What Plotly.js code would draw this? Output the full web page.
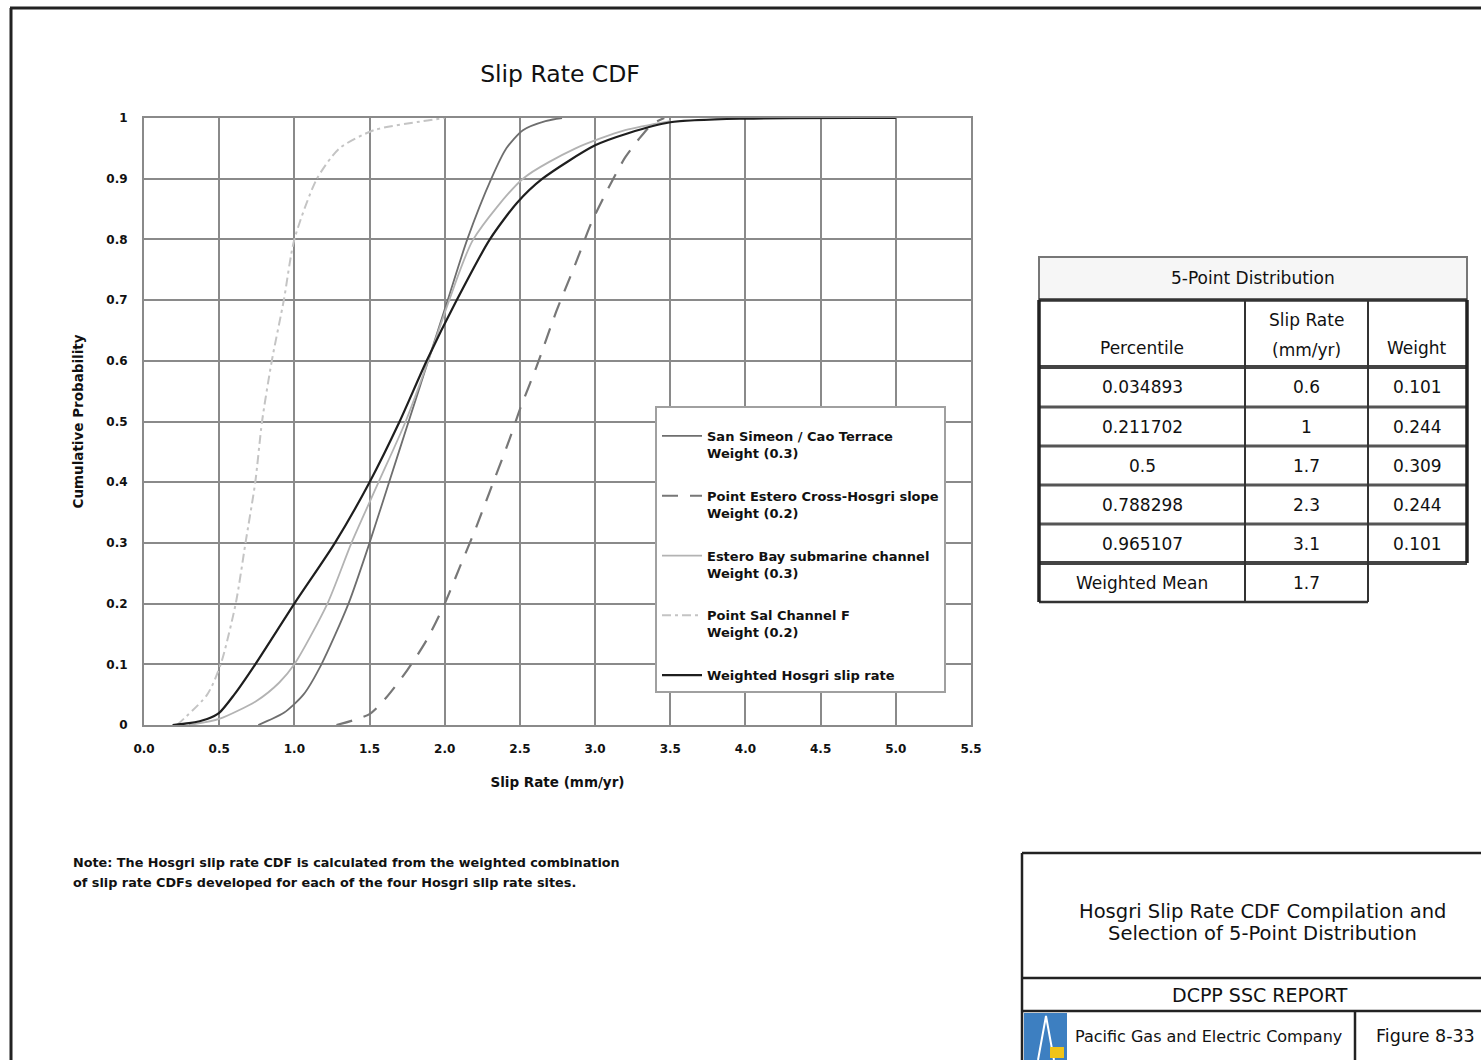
<!DOCTYPE html>
<html>
<head>
<meta charset="utf-8">
<script src="https://cdn.plot.ly/plotly-3.0.1.min.js"></script>
<style>html,body{margin:0;padding:0;background:#fff;}#chart{width:1481px;height:1060px;}</style>
</head>
<body>
<div id="chart"></div>
<script>
// ---- Data ----
const seriesNames = [
  "San Simeon / Cao Terrace<br>Weight (0.3)",
  "Point Estero Cross-Hosgri slope<br>Weight (0.2)",
  "Estero Bay submarine channel<br>Weight (0.3)",
  "Point Sal Channel F<br>Weight (0.2)",
  "Weighted Hosgri slip rate"
];
const ssX = [0.76, 0.93, 1.06, 1.18, 1.36, 1.50, 1.63, 1.76, 1.89, 2.02, 2.15, 2.31, 2.41, 2.52, 2.67, 2.78];
const ssY = [0, 0.02, 0.05, 0.10, 0.20, 0.30, 0.40, 0.50, 0.60, 0.70, 0.80, 0.90, 0.95, 0.98, 0.995, 1.0];
const peX = [1.28, 1.50, 1.61, 1.75, 1.88, 2.00, 2.10, 2.20, 2.30, 2.43, 2.50, 2.61, 2.74, 2.87, 2.98, 3.10, 3.20, 3.29, 3.38, 3.46];
const peY = [0, 0.018, 0.045, 0.09, 0.14, 0.20, 0.26, 0.32, 0.385, 0.47, 0.52, 0.59, 0.68, 0.76, 0.83, 0.89, 0.935, 0.965, 0.99, 1.0];
const ebX = [0.30, 0.50, 0.75, 0.90, 1.00, 1.22, 1.38, 1.56, 1.74, 1.89, 2.03, 2.19, 2.52, 2.87, 3.20, 3.50];
const ebY = [0, 0.01, 0.04, 0.07, 0.10, 0.20, 0.30, 0.40, 0.50, 0.60, 0.70, 0.80, 0.90, 0.95, 0.98, 0.995];
const psX = [0.22, 0.42, 0.51, 0.61, 0.675, 0.74, 0.785, 0.85, 0.93, 1.00, 1.15, 1.30, 1.53, 1.86, 2.00];
const psY = [0, 0.05, 0.10, 0.20, 0.30, 0.40, 0.50, 0.60, 0.70, 0.80, 0.90, 0.95, 0.98, 0.995, 1.0];
const wtX = [0.19, 0.30, 0.42, 0.50, 0.60, 0.74, 1.00, 1.27, 1.50, 1.70, 1.88, 2.08, 2.30, 2.48, 2.65, 3.00, 3.22, 3.50, 4.00, 5.00];
const wtY = [0, 0.003, 0.01, 0.02, 0.05, 0.10, 0.20, 0.30, 0.40, 0.50, 0.60, 0.70, 0.80, 0.86, 0.90, 0.955, 0.975, 0.993, 0.999, 1.0];

const yTickVals = [0, 0.1, 0.2, 0.3, 0.4, 0.5, 0.6, 0.7, 0.8, 0.9, 1];
const yTickText = ["0", "0.1", "0.2", "0.3", "0.4", "0.5", "0.6", "0.7", "0.8", "0.9", "1"];

const tablePercentiles = ["0.034893", "0.211702", "0.5", "0.788298", "0.965107"];
const tableSlipRates = ["0.6", "1", "1.7", "2.3", "3.1"];
const tableWeights = ["0.101", "0.244", "0.309", "0.244", "0.101"];
const weightedMean = "1.7";

// ---- Geometry helpers (pixel -> paper) ----
const L = 144, R = 971, T = 118, B = 725;
const xp = px => (px - L) / (R - L);
const yp = py => (B - py) / (B - T);
const FONT = "DejaVu Sans, Liberation Sans, Arial, sans-serif";

const styles = [
  {color: "#6e6e6e", width: 1.8, dash: "solid"},
  {color: "#777777", width: 2.2, dash: "16px,12px"},
  {color: "#b3b3b3", width: 1.8, dash: "solid"},
  {color: "#c4c4c4", width: 2.0, dash: "9px,4px,3px,4px"},
  {color: "#1e1e1e", width: 2.2, dash: "solid"}
];
const xs = [ssX, peX, ebX, psX, wtX];
const ys = [ssY, peY, ebY, psY, wtY];

const traces = xs.map((x, i) => ({
  type: "scatter", mode: "lines", x: x, y: ys[i], name: seriesNames[i],
  legendgroup: "g" + i,
  line: {color: styles[i].color, width: styles[i].width, dash: styles[i].dash, shape: "spline", smoothing: 0.7},
  hoverinfo: "skip"
}));

const shapes = [];
const annotations = [];
function hline(y, x0, x1, color, w) {
  shapes.push({type: "line", xref: "paper", yref: "paper", x0: xp(x0), x1: xp(x1), y0: yp(y), y1: yp(y), line: {color: color, width: w}});
}
function vline(x, y0, y1, color, w) {
  shapes.push({type: "line", xref: "paper", yref: "paper", x0: xp(x), x1: xp(x), y0: yp(y0), y1: yp(y1), line: {color: color, width: w}});
}
function text(t, x, y, size, opts) {
  opts = opts || {};
  annotations.push(Object.assign({
    xref: "paper", yref: "paper", x: xp(x), y: yp(y), text: t, showarrow: false,
    xanchor: "center", yanchor: "middle",
    font: {family: FONT, size: size, color: "#111", weight: opts.weight || "normal"}
  }, opts.extra || {}));
}

// Outer page frame
hline(8, 10, 1481, "#222", 3);
vline(11, 8, 1060, "#222", 3);

// ---- Table ----
const tx = [1039, 1245, 1368, 1467];
const ty = [257, 300, 367, 407, 446, 485, 524, 563, 602];
shapes.push({type: "rect", xref: "paper", yref: "paper", x0: xp(tx[0]), x1: xp(tx[3]), y0: yp(ty[0]), y1: yp(ty[1]),
  line: {color: "#777", width: 2}, fillcolor: "#f6f6f6"});
hline(ty[1], tx[0], tx[3], "#333", 3.5);
hline(ty[2], tx[0], tx[3], "#444", 4);
for (let k = 3; k <= 6; k++) hline(ty[k], tx[0], tx[3], "#555", 3);
hline(ty[7], tx[0], tx[3], "#444", 4);
hline(ty[8], tx[0], tx[2], "#333", 2.5);
vline(tx[0], ty[1], ty[8], "#222", 3.5);
vline(tx[1], ty[1], ty[8], "#333", 2);
vline(tx[2], ty[1], ty[8], "#333", 2);
vline(tx[3], ty[1], ty[7], "#222", 3.5);

const colC = [1142, 1306, 1417];
text("5-Point Distribution", 1253, 278, 17);
text("Percentile", colC[0], 348, 17);
text("Slip Rate", colC[1], 320, 17);
text("(mm/yr)", colC[1], 350, 17);
text("Weight", colC[2], 348, 17);
tablePercentiles.forEach((p, i) => {
  const cy = (ty[i + 2] + ty[i + 3]) / 2;
  text(p, colC[0], cy, 17);
  text(tableSlipRates[i], colC[1], cy, 17);
  text(tableWeights[i], colC[2], cy, 17);
});
text("Weighted Mean", colC[0], (ty[7] + ty[8]) / 2, 17);
text(weightedMean, colC[1], (ty[7] + ty[8]) / 2, 17);

// ---- Note ----
text("Note: The Hosgri slip rate CDF is calculated from the weighted combination", 71, 862, 12.8, {weight: "bold", extra: {xanchor: "left"}});
text("of slip rate CDFs developed for each of the four Hosgri slip rate sites.", 71, 882, 12.8, {weight: "bold", extra: {xanchor: "left"}});

// ---- Title block ----
hline(853, 1022, 1481, "#222", 2.5);
vline(1022, 853, 1060, "#222", 2.5);
hline(978, 1022, 1481, "#222", 2.5);
hline(1011, 1022, 1481, "#222", 2.5);
vline(1355, 1011, 1060, "#222", 2.5);
text("Hosgri Slip Rate CDF Compilation and", 1262, 911, 19.5);
text("Selection of 5-Point Distribution", 1262, 933, 19.5);
text("DCPP SSC REPORT", 1260, 995, 19);
text("Pacific Gas and Electric Company", 1208, 1036, 16);
text("Figure 8-33", 1374, 1036, 17.5, {extra: {xanchor: "left"}});
// logo
shapes.push({type: "rect", xref: "paper", yref: "paper", x0: xp(1024), x1: xp(1067), y0: yp(1013), y1: yp(1060), line: {width: 0}, fillcolor: "#3d7fc1"});
shapes.push({type: "path", xref: "paper", yref: "paper",
  path: "M" + xp(1038) + "," + yp(1060) + " L" + xp(1046) + "," + yp(1016) + " L" + xp(1054) + "," + yp(1060),
  line: {color: "#ffffff", width: 2}});
shapes.push({type: "rect", xref: "paper", yref: "paper", x0: xp(1050), x1: xp(1064), y0: yp(1047), y1: yp(1058), line: {width: 0}, fillcolor: "#f0c419"});

const layout = {
  width: 1481, height: 1060,
  paper_bgcolor: "#ffffff", plot_bgcolor: "#ffffff",
  margin: {l: L, r: 1481 - R, t: T, b: 1060 - B, pad: 0},
  title: {text: "Slip Rate CDF", x: 560 / 1481, xanchor: "center", y: 1 - 74 / 1060, yanchor: "middle",
          font: {family: FONT, size: 23.5, color: "#111"}},
  font: {family: FONT, color: "#111"},
  xaxis: {
    range: [0, 5.5], dtick: 0.5, tick0: 0, tickformat: ".1f",
    showgrid: true, gridcolor: "#8a8a8a", gridwidth: 2,
    showline: true, linecolor: "#8a8a8a", linewidth: 2, mirror: true,
    zeroline: false, ticks: "", ticklabelstandoff: 12,
    tickfont: {family: FONT, size: 12, weight: "bold", color: "#111"},
    title: {text: "Slip Rate (mm/yr)", standoff: 22, font: {family: FONT, size: 13.5, weight: "bold", color: "#111"}}
  },
  yaxis: {
    range: [0, 1], tickvals: yTickVals, ticktext: yTickText,
    showgrid: true, gridcolor: "#8a8a8a", gridwidth: 2,
    showline: true, linecolor: "#8a8a8a", linewidth: 2, mirror: true,
    zeroline: false, ticks: "", ticklabelstandoff: 12,
    tickfont: {family: FONT, size: 12, weight: "bold", color: "#111"},
    title: {text: "Cumulative Probability", standoff: 20, font: {family: FONT, size: 13.5, weight: "bold", color: "#111"}}
  },
  showlegend: true,
  legend: {
    x: xp(655), y: yp(406), xanchor: "left", yanchor: "top",
    bgcolor: "#ffffff", bordercolor: "#a0a0a0", borderwidth: 2,
    font: {family: FONT, size: 13, weight: "bold", color: "#111"},
    title: {text: " ", font: {family: FONT, size: 10}},
    itemwidth: 40, valign: "top", tracegroupgap: 23, traceorder: "grouped"
  },
  shapes: shapes,
  annotations: annotations
};

Plotly.newPlot("chart", traces, layout, {displayModeBar: false, staticPlot: true});
</script>
</body>
</html>
